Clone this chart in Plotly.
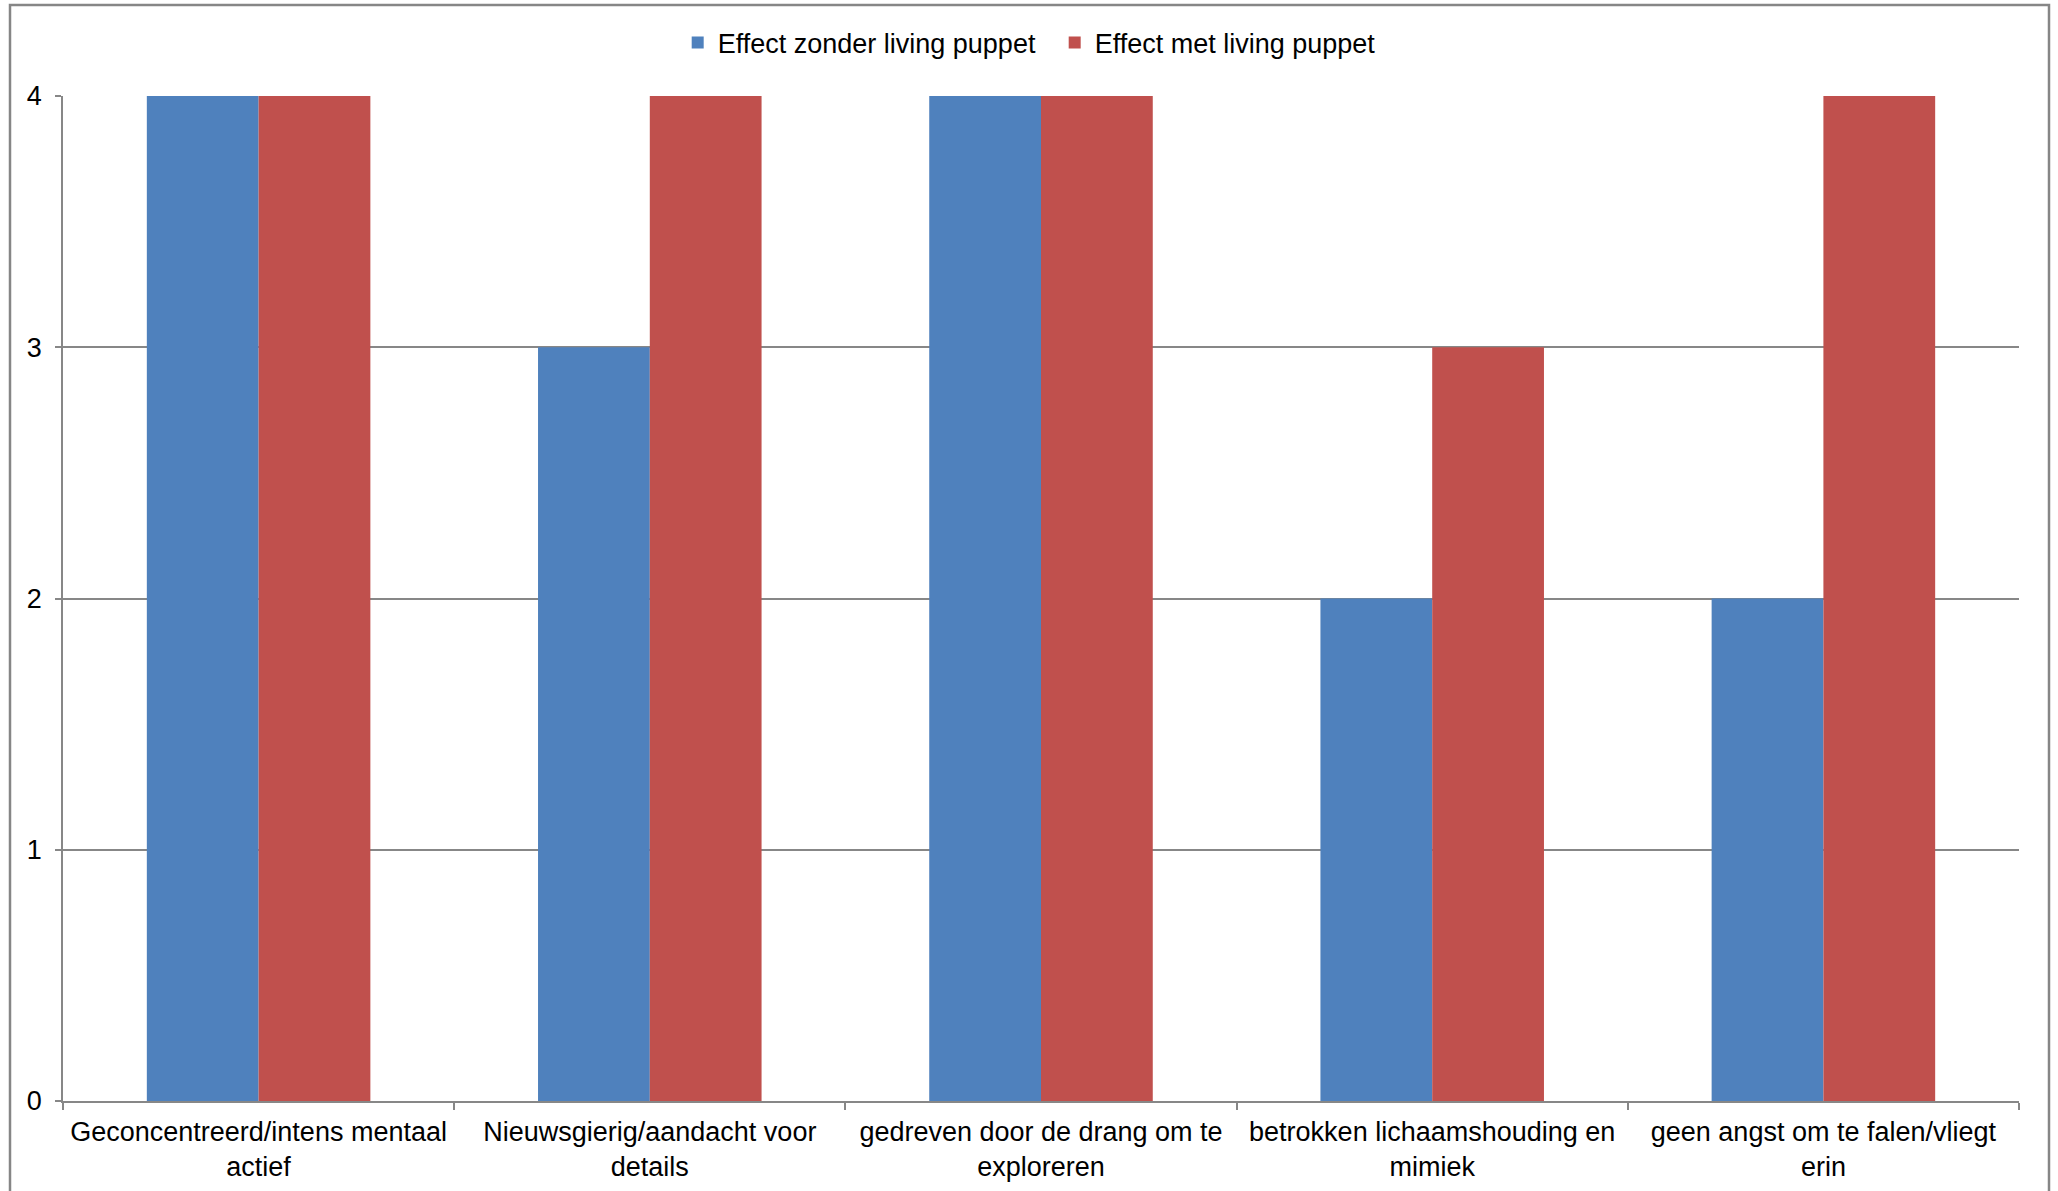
import plotly.graph_objects as go

categories = [
    "Geconcentreerd/intens mentaal<br>actief",
    "Nieuwsgierig/aandacht voor<br>details",
    "gedreven door de drang om te<br>exploreren",
    "betrokken lichaamshouding en<br>mimiek",
    "geen angst om te falen/vliegt<br>erin",
]
series_names = ["Effect zonder living puppet", "Effect met living puppet"]
zonder = [4, 3, 4, 2, 2]
met = [4, 4, 4, 3, 4]
y_ticks = [0, 1, 2, 3, 4]

W, H = 2058, 1191
L, T = 63, 96
R = W - 2019
B = H - 1101
pw, ph = W - L - R, H - T - B

FONT = "Liberation Sans, Arial, sans-serif"
GRID = "#878787"

fig = go.Figure()
fig.add_trace(go.Bar(name=series_names[0], x=categories, y=zonder,
                     marker=dict(color="#4F81BD", line=dict(width=0))))
fig.add_trace(go.Bar(name=series_names[1], x=categories, y=met,
                     marker=dict(color="#C0504D", line=dict(width=0))))

fig.update_layout(
    width=W, height=H,
    margin=dict(l=L, r=R, t=T, b=B, pad=0),
    paper_bgcolor="white", plot_bgcolor="white",
    barmode="group", bargap=1.5 / 3.5, bargroupgap=0,
    font=dict(family=FONT, size=27, color="black"),
    showlegend=True,
    legend=dict(orientation="h", x=0.507, xanchor="center", y=1 + (96 - 43) / ph,
                yanchor="middle", font=dict(size=27), itemwidth=30,
                entrywidth=332, entrywidthmode="pixels",
                bgcolor="rgba(0,0,0,0)"),
    xaxis=dict(type="category", showline=True, linecolor=GRID, linewidth=1.5,
               ticks="outside", tickson="boundaries", ticklen=7, tickcolor=GRID,
               tickwidth=1.5, showgrid=False, tickfont=dict(size=27),
               ticklabelstandoff=6, automargin=False, fixedrange=True),
    yaxis=dict(range=[0, 4], tickvals=y_ticks, showline=True, linecolor=GRID,
               linewidth=1.5, ticks="outside", ticklen=6, tickcolor=GRID,
               tickwidth=1.5, showgrid=True, gridcolor=GRID, gridwidth=1.5,
               zeroline=False, tickfont=dict(size=27), ticklabelstandoff=8,
               automargin=False, fixedrange=True),
    shapes=[dict(type="rect", xref="paper", yref="paper",
                 x0=(10 - L) / pw, x1=(2049 - L) / pw,
                 y0=(1101 - 1240) / ph, y1=(1101 - 5) / ph,
                 line=dict(color="#868686", width=2.5),
                 fillcolor="rgba(0,0,0,0)", layer="above")],
)

fig.write_html(
    "out.html",
    config={"displayModeBar": False},
    post_script="document.body.style.margin='0';document.body.style.overflow='hidden';",
)
